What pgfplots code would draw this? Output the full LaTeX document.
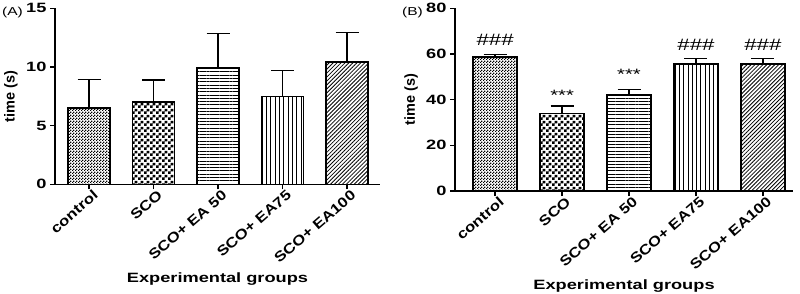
\documentclass[border=0pt]{standalone}
\usepackage{pgfplots}
\pgfplotsset{compat=1.18}
\usepackage{fontspec}
\setmainfont{Liberation Sans}
\newfontfamily\wide[FakeStretch=1.35]{Liberation Sans}
\newfontfamily\midw[FakeStretch=1.2]{Liberation Sans}
\usetikzlibrary{patterns,patterns.meta}
\pgfdeclarepatternformonly{checkfine}{\pgfpointorigin}{\pgfqpoint{3pt}{3pt}}{\pgfqpoint{3pt}{3pt}}{%
  \pgfpathrectangle{\pgfpointorigin}{\pgfqpoint{1.5pt}{1.5pt}}%
  \pgfpathrectangle{\pgfqpoint{1.5pt}{1.5pt}}{\pgfqpoint{1.5pt}{1.5pt}}%
  \pgfusepath{fill}}
\pgfdeclarepatternformonly{checkbig}{\pgfpointorigin}{\pgfqpoint{6pt}{6pt}}{\pgfqpoint{6pt}{6pt}}{%
  \pgfpathrectangle{\pgfpointorigin}{\pgfqpoint{3pt}{3pt}}%
  \pgfpathrectangle{\pgfqpoint{3pt}{3pt}}{\pgfqpoint{3pt}{3pt}}%
  \pgfusepath{fill}}

\pgfplotsset{
  mybars/.style={
    scale only axis, clip=false,
    ybar, ymin=0,
    axis lines=left, axis line style={-, line width=1.4pt, black},
    tick align=outside, major tick length=5pt,
    tick style={line width=1.4pt, black},
    xtick={0,1,2,3,4},
    xticklabels={control,SCO,SCO+ EA 50,SCO+ EA75,SCO+ EA100},
    /pgf/number format/assume math mode=true,
    yticklabel style={font=\wide\bfseries\fontsize{13.5}{13.5}\selectfont},
    xticklabel style={font=\midw\bfseries\fontsize{14}{14}\selectfont, xshift=9pt, yshift=-1.5pt, rotate=41, anchor=east},
    every axis x label/.style={at={(axis description cs:0.5,0)}, anchor=center, font=\wide\bfseries\fontsize{13.5}{13.5}\selectfont},
    every axis y label/.style={at={(axis description cs:0,0.5)}, anchor=center, xshift=-44pt, rotate=90, font=\bfseries\fontsize{14.5}{14.5}\selectfont},
    xlabel={Experimental groups}, ylabel={time (s)},
  },
  onebar/.style={draw=black, line width=1.6pt, bar shift=0pt, pattern color=black,
    error bars/y dir=plus, error bars/y explicit,
    error bars/error bar style={line width=1.4pt, black},
    error bars/error mark options={rotate=90, line width=1.4pt, mark size=11.5pt, black}},
}

\begin{document}
\begin{tikzpicture}[x=1pt,y=1pt]
\useasboundingbox (0,0) rectangle (800,293);
\node[anchor=north west, inner sep=0pt, font=\wide\fontsize{11.5}{11.5}\selectfont] at (2,286) {(A)};
\node[anchor=north west, inner sep=0pt, font=\wide\fontsize{11.5}{11.5}\selectfont] at (402,286) {(B)};

\begin{axis}[mybars, at={(55pt,108.7pt)}, anchor=south west,
  width=325pt, height=176pt, bar width=42pt,
  xmin=-0.53, xmax=4.51, ymax=15, ytick={0,5,10,15},
  xlabel style={yshift=-95pt}]
\addplot[onebar, pattern=checkfine] coordinates {(0,6.48) +- (0,2.47)};
\addplot[onebar, pattern=checkbig] coordinates {(1,6.99) +- (0,1.90)};
\addplot[onebar, pattern={Lines[angle=0, distance=3.3pt, line width=1pt]}] coordinates {(2,9.89) +- (0,2.98)};
\addplot[onebar, pattern={Lines[angle=90, distance=4.3pt, line width=1pt]}] coordinates {(3,7.50) +- (0,2.19)};
\addplot[onebar, pattern={Lines[angle=45, distance=2.8pt, line width=0.8pt]}] coordinates {(4,10.40) +- (0,2.55)};
\end{axis}

\begin{axis}[mybars, at={(455pt,102pt)}, anchor=south west,
  width=338pt, height=182.7pt, bar width=44pt,
  xmin=-0.6, xmax=4.45, ymax=80, ytick={0,20,40,60,80},
  xlabel style={yshift=-95pt}]
\addplot[onebar, pattern=checkfine] coordinates {(0,58.8) +- (0,1.1)};
\addplot[onebar, pattern=checkbig] coordinates {(1,33.9) +- (0,3.3)};
\addplot[onebar, pattern={Lines[angle=0, distance=3.3pt, line width=1pt]}] coordinates {(2,42.0) +- (0,2.5)};
\addplot[onebar, pattern={Lines[angle=90, distance=4.3pt, line width=1pt]}] coordinates {(3,55.5) +- (0,2.6)};
\addplot[onebar, pattern={Lines[angle=45, distance=2.8pt, line width=0.8pt]}] coordinates {(4,55.5) +- (0,2.6)};
\node[font=\wide\fontsize{16.5}{16.5}\selectfont] at (axis cs:0,66.4) {\#\#\#};
\node[font=\wide\fontsize{16.5}{16.5}\selectfont] at (axis cs:3,64.2) {\#\#\#};
\node[font=\wide\fontsize{16.5}{16.5}\selectfont] at (axis cs:4,64.2) {\#\#\#};
\node[font=\wide\fontsize{15}{15}\selectfont] at (axis cs:1,42) {***};
\node[font=\wide\fontsize{15}{15}\selectfont] at (axis cs:2,51.2) {***};
\end{axis}
\end{tikzpicture}
\end{document}
